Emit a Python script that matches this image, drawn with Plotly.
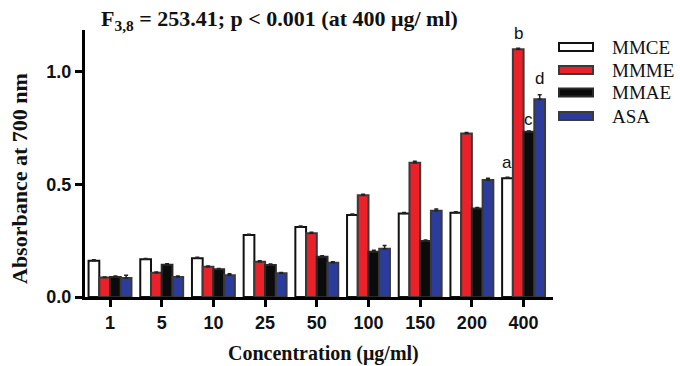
import plotly.graph_objects as go

categories = ["1", "5", "10", "25", "50", "100", "150", "200", "400"]
series_names = ["MMCE", "MMME", "MMAE", "ASA"]
mmce = [0.161, 0.167, 0.172, 0.275, 0.311, 0.364, 0.371, 0.374, 0.527]
mmme = [0.086, 0.108, 0.134, 0.157, 0.283, 0.452, 0.596, 0.726, 1.100]
mmae = [0.089, 0.143, 0.123, 0.142, 0.179, 0.201, 0.248, 0.393, 0.733]
asa = [0.084, 0.089, 0.096, 0.105, 0.152, 0.214, 0.383, 0.519, 0.878]
mmce_err = [0.004, 0.004, 0.004, 0.004, 0.004, 0.004, 0.004, 0.004, 0.004]
mmme_err = [0.003, 0.003, 0.004, 0.004, 0.004, 0.004, 0.006, 0.004, 0.004]
mmae_err = [0.004, 0.005, 0.004, 0.005, 0.004, 0.006, 0.005, 0.004, 0.004]
asa_err = [0.012, 0.004, 0.007, 0.004, 0.005, 0.015, 0.008, 0.008, 0.020]
sig_letters = ["a", "b", "c", "d"]

values = [mmce, mmme, mmae, asa]
errors = [mmce_err, mmme_err, mmae_err, asa_err]
fills = ["#ffffff", "#ea2128", "#0b0b0b", "#2b3c9c"]
outlines = ["#111111", "#3a3a3a", "#2a2a2a", "#3a3a3a"]

W, H = 680, 366
L, R, T, B = 85, 127, 30, 69
pw, ph = W - L - R, H - T - B

def px(x):
    return (x - L) / pw

def py(y):
    return 1 - (y - T) / ph

fig = go.Figure()
for name, v, e, f, o in zip(series_names, values, errors, fills, outlines):
    fig.add_trace(go.Bar(
        x=list(range(len(categories))), y=v, name=name,
        marker=dict(color=f, line=dict(color=o, width=2)),
        error_y=dict(type="data", array=e, arrayminus=[0] * len(e),
                     color="#222222", thickness=1.5, width=2),
        showlegend=False,
    ))

bargap = 0.17
bw = (1 - bargap) / 4
last = len(categories) - 1
letter_shift = [3, 3, 0, 5]
for k, (letter, v, e) in enumerate(zip(sig_letters, values, errors)):
    xoff = last - (1 - bargap) / 2 + bw * (k + 0.5)
    fig.add_annotation(x=xoff, y=v[last] + e[last], text=letter, showarrow=False,
                       yanchor="bottom", yshift=letter_shift[k],
                       font=dict(family="Liberation Sans", size=17, color="#111"))

# custom legend
leg_rows = [47, 70, 92.5, 116]
for name, f, o, yc in zip(series_names, fills, outlines, leg_rows):
    fig.add_shape(type="rect", xref="paper", yref="paper",
                  x0=px(559), x1=px(593), y0=py(yc - 4), y1=py(yc + 4),
                  fillcolor=f, line=dict(color=o, width=2))
    fig.add_annotation(xref="paper", yref="paper", x=px(610), y=py(yc),
                       text=name, showarrow=False, xanchor="left", yanchor="middle",
                       font=dict(family="Liberation Serif", size=19, color="#111"))

fig.add_annotation(xref="paper", yref="paper", x=px(99), y=py(20),
                   text="F<sub>3,8</sub> = 253.41; p < 0.001 (at 400 μg/ ml)",
                   showarrow=False, xanchor="left", yanchor="middle",
                   font=dict(family="Liberation Serif", size=22, color="#111", weight="bold"))

fig.add_annotation(xref="paper", yref="paper", x=px(323), y=py(353),
                   text="Concentration (μg/ml)",
                   showarrow=False, xanchor="center", yanchor="middle",
                   font=dict(family="Liberation Serif", size=20, color="#111", weight="bold"))

fig.add_annotation(xref="paper", yref="paper", x=px(19), y=py(179),
                   text="Absorbance at 700 nm", textangle=-90,
                   showarrow=False, xanchor="center", yanchor="middle",
                   font=dict(family="Liberation Serif", size=22, color="#111", weight="bold"))

fig.update_layout(
    width=W, height=H, margin=dict(l=L, r=R, t=T, b=B),
    paper_bgcolor="white", plot_bgcolor="white",
    barmode="group", bargap=bargap, bargroupgap=0,
    xaxis=dict(
        tickmode="array", tickvals=list(range(len(categories))), ticktext=categories,
        range=[-0.484, 8.569], showline=True, linecolor="#000", linewidth=3,
        ticks="outside", ticklen=7, tickwidth=2.5, tickcolor="#000",
        showgrid=False, zeroline=False, automargin=False,
        tickfont=dict(family="Liberation Sans", size=18, color="#111", weight="bold"),
    ),
    yaxis=dict(
        range=[0, 1.185], tickvals=[0, 0.5, 1.0], tickformat=".1f",
        showline=True, linecolor="#000", linewidth=3,
        ticks="outside", ticklen=7, tickwidth=2.5, tickcolor="#000",
        showgrid=False, zeroline=False, automargin=False,
        tickfont=dict(family="Liberation Sans", size=18, color="#111", weight="bold"),
    ),
)

fig.write_html("out.html")
